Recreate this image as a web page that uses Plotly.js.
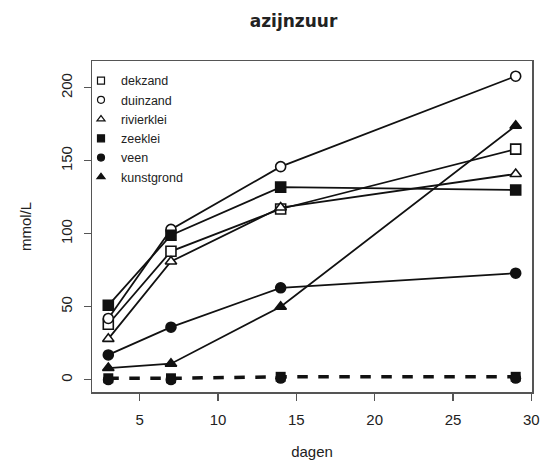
<!DOCTYPE html>
<html>
<head>
<meta charset="utf-8">
<script src="https://cdn.plot.ly/plotly-3.0.1.min.js"></script>
<style>html,body{margin:0;padding:0;background:#fff;}#chart{width:557px;height:467px;}</style>
</head>
<body>
<div id="chart"></div>
<script>
// data
const dagen = [3, 7, 14, 29];
const seriesNames = ["dekzand", "duinzand", "rivierklei", "zeeklei", "veen", "kunstgrond"];
const dekzand    = [38, 88, 117, 158];
const duinzand   = [42, 103, 146, 208];
const rivierklei = [28, 81, 118, 141];
const zeeklei    = [51, 99, 132, 130];
const veen       = [17, 36, 63, 73];
const kunstgrond = [8, 11, 50, 174];
const blancoA    = [1, 1, 2, 2];
const blancoB    = [0, 0, 1, 1];
const xTicks = [5, 10, 15, 20, 25, 30];
const yTicks = [0, 50, 100, 150, 200];

const symbols = ["square", "circle", "triangle-up", "square", "circle", "triangle-up"];
const fills = ["#fff", "#fff", "#fff", "#111", "#111", "#111"];
const values = [dekzand, duinzand, rivierklei, zeeklei, veen, kunstgrond];

const traces = [];
// baseline dashed series
traces.push({x: dagen, y: blancoA, mode: "lines+markers", showlegend: false,
  line: {color: "#111", width: 3.5, dash: "dash"},
  marker: {symbol: "square", size: 10, color: "#111"}});
traces.push({x: dagen, y: blancoB, mode: "markers", showlegend: false,
  marker: {symbol: "circle", size: 11, color: "#111"}});

values.forEach((v, i) => {
  traces.push({x: dagen, y: v, mode: "lines+markers", name: seriesNames[i], showlegend: false,
    line: {color: "#111", width: 1.8},
    marker: {symbol: symbols[i], size: 10, color: fills[i], line: {width: 1.6, color: "#111"}}});
});
// legend-only entries (symbols only)
values.forEach((v, i) => {
  traces.push({x: [null], y: [null], mode: "markers", name: seriesNames[i], showlegend: true,
    marker: {symbol: symbols[i], size: 7, color: fills[i], line: {width: 1.2, color: "#111"}}});
});

const axisCommon = {
  showline: true, mirror: true, linecolor: "#555", linewidth: 1.5,
  ticks: "outside", ticklen: 7, tickwidth: 1.2, tickcolor: "#555",
  showgrid: false, zeroline: false,
  tickfont: {family: "Liberation Sans, Arial, sans-serif", size: 15, color: "#222"}
};

const layout = {
  width: 557, height: 467,
  margin: {l: 92, r: 25, t: 61, b: 75},
  paper_bgcolor: "#fff", plot_bgcolor: "#fff",
  title: {text: "<b>azijnzuur</b>", x: 0.527, xanchor: "center", y: 0.955, yanchor: "middle",
    font: {family: "DejaVu Sans, Liberation Sans, sans-serif", size: 17, color: "#222"}},
  xaxis: Object.assign({}, axisCommon, {
    range: [1.96, 30.04], tickvals: xTicks, ticktext: xTicks.map(String), ticklabelstandoff: 6,
    title: {text: "dagen", standoff: 20, font: {family: "Liberation Sans, Arial, sans-serif", size: 15, color: "#222"}}
  }),
  yaxis: Object.assign({}, axisCommon, {
    range: [-8.4, 218.4], tickvals: yTicks, ticktext: yTicks.map(String), tickangle: -90, ticklabelstandoff: 6,
    title: {text: "mmol/L", standoff: 22, font: {family: "Liberation Sans, Arial, sans-serif", size: 15, color: "#222"}}
  }),
  legend: {x: -0.025, y: 0.985, xanchor: "left", yanchor: "top", bgcolor: "rgba(0,0,0,0)",
    font: {family: "Liberation Sans, Arial, sans-serif", size: 12.5, color: "#222"},
    itemwidth: 30, tracegroupgap: 0},
  showlegend: true
};

Plotly.newPlot("chart", traces, layout, {displayModeBar: false, staticPlot: true});
</script>
</body>
</html>
